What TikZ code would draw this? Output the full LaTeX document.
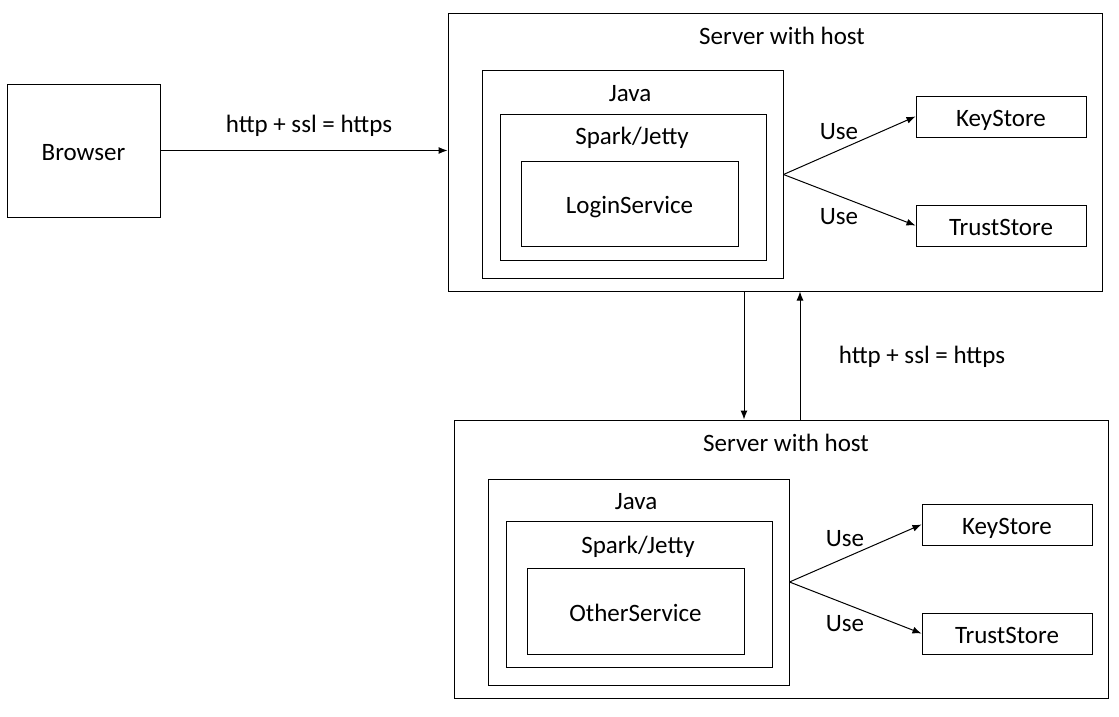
\documentclass[tikz,border=0pt]{standalone}
\usepackage{fontspec}
\setmainfont{Carlito}
\usetikzlibrary{arrows.meta}
\begin{document}
\begin{tikzpicture}[x=1pt,y=-1pt,
  box/.style={draw=black,line width=1pt,rectangle,inner sep=0pt,text height=20pt,text depth=0pt,font=\fontsize{25}{30}\selectfont},
  txt/.style={inner sep=0pt,font=\fontsize{25}{30}\selectfont},
  arr/.style={line width=1pt,-{Latex[length=9pt,width=7pt]}}]
\useasboundingbox[fill=white] (0,0) rectangle (1119,717);
% browser
\node[box,minimum width=153pt,minimum height=133pt] (browser) at (83.5,150.5) {Browser};
% server 1
\node[box,minimum width=654pt,minimum height=277pt] (server1) at (775,152.5) {};
\node[txt] (s1title) at (782,35.5) {Server with host};
\node[box,minimum width=301pt,minimum height=207pt] (java1) at (632.5,174.5) {};
\node[txt] (j1title) at (630,94) {Java};
\node[box,minimum width=266pt,minimum height=146pt] (spark1) at (633,187) {};
\node[txt] (sp1title) at (632,137.5) {Spark/Jetty};
\node[box,minimum width=217pt,minimum height=85pt] (login) at (629.5,203.5) {LoginService};
\node[box,minimum width=170pt,minimum height=41pt] (ks1) at (1001,116.5) {KeyStore};
\node[box,minimum width=170pt,minimum height=41pt] (ts1) at (1001,225.5) {TrustStore};
\node[txt] (use1) at (839,131.5) {Use};
\node[txt] (use2) at (839,216.5) {Use};
% server 2
\node[box,minimum width=654pt,minimum height=278pt] (server2) at (781,559) {};
\node[txt] (s2title) at (786,442.5) {Server with host};
\node[box,minimum width=301pt,minimum height=206pt] (java2) at (638.5,582) {};
\node[txt] (j2title) at (636,502) {Java};
\node[box,minimum width=266pt,minimum height=146pt] (spark2) at (639,594) {};
\node[txt] (sp2title) at (638,546.5) {Spark/Jetty};
\node[box,minimum width=217pt,minimum height=86pt] (other) at (635.5,611) {OtherService};
\node[box,minimum width=170pt,minimum height=41pt] (ks2) at (1007,524.5) {KeyStore};
\node[box,minimum width=170pt,minimum height=41pt] (ts2) at (1007,633.5) {TrustStore};
\node[txt] (use3) at (845,538.5) {Use};
\node[txt] (use4) at (845,623.5) {Use};
% labels
\node[txt] (https1) at (309,125.5) {http + ssl = https};
\node[txt] (https2) at (922,356.5) {http + ssl = https};
% connectors
\draw[arr] (browser.east) -- (browser.east -| server1.west);
\draw[arr] (java1.east) -- (ks1.west);
\draw[arr] (java1.east) -- (ts1.west);
\draw[arr] (java2.east) -- (ks2.west);
\draw[arr] (java2.east) -- (ts2.west);
\draw[arr] ([xshift=-31pt]server1.south) -- ([xshift=-31pt]server1.south |- server2.north);
\draw[arr] ([xshift=25pt]server1.south |- server2.north) -- ([xshift=25pt]server1.south);
\end{tikzpicture}
\end{document}
